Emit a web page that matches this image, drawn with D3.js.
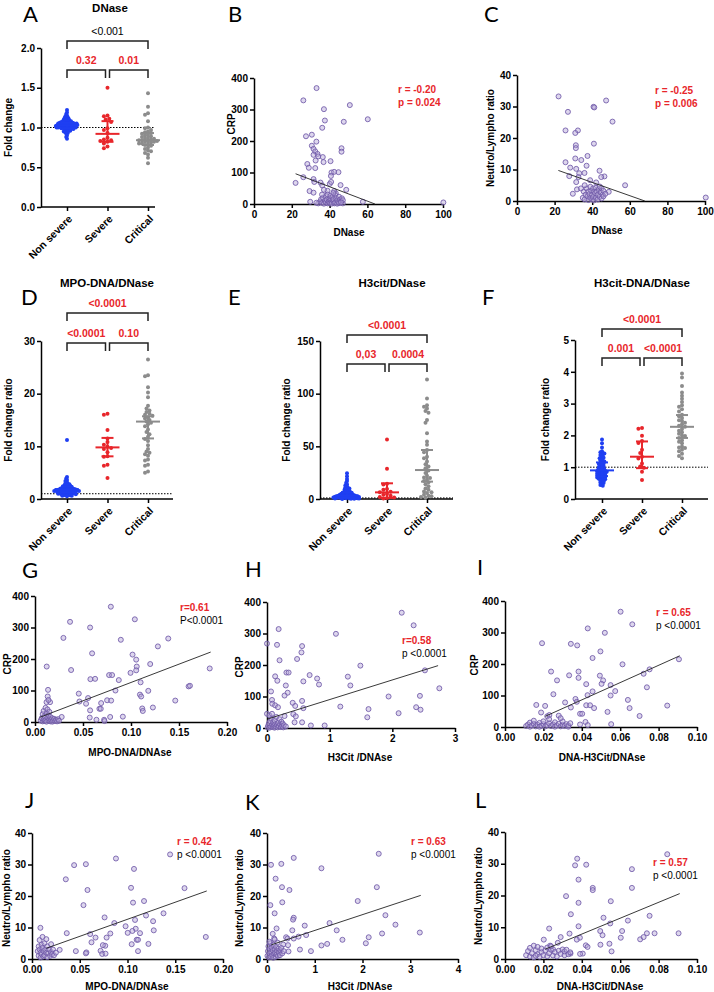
<!DOCTYPE html>
<html>
<head>
<meta charset="utf-8">
<script src="https://cdn.jsdelivr.net/npm/d3@7"></script>
<style>
  body { margin: 0; background: #fff; }
  text { font-family: "Liberation Sans", Arial, sans-serif; }
</style>
</head>
<body>
<div id="fig"></div>
<script>
// ---- data ----
const cats = ["Non severe", "Severe", "Critical"];

// A: DNase fold change
const aNon = [1.22,1.19,1.17,1.15,1.14,1.13,1.12,1.12,1.11,1.10,1.10,1.09,1.09,1.08,1.08,1.08,1.07,1.07,1.07,1.06,1.06,1.06,1.06,1.05,1.05,1.05,1.05,1.05,1.04,1.04,1.04,1.04,1.04,1.03,1.03,1.03,1.03,1.03,1.03,1.02,1.02,1.02,1.02,1.02,1.01,1.01,1.01,1.01,1.01,1.00,1.00,1.00,1.00,0.99,0.99,0.99,0.99,0.98,0.98,0.98,0.97,0.97,0.96,0.96,0.95,0.95,0.94,0.93,0.92,0.90,0.88,0.86];
const aSev = [1.50,1.15,1.14,1.11,1.10,1.07,0.99,0.97,0.93,0.87,0.85,0.84,0.83,0.82,0.80,0.76,0.74];
const aCrit = [1.43,1.26,1.18,1.16,1.08,1.00,0.99,0.97,0.95,0.94,0.93,0.92,0.91,0.90,0.89,0.88,0.87,0.86,0.86,0.85,0.84,0.84,0.83,0.83,0.82,0.82,0.81,0.80,0.80,0.79,0.78,0.77,0.75,0.73,0.71,0.70,0.68,0.66,0.62,0.55];
const aMed = [1.03, 0.92, 0.84];
const aLo = [0.99, 0.82, 0.78];
const aHi = [1.06, 1.08, 0.93];
const aP = ["<0.001", "0.32", "0.01"];

// D: MPO-DNA/DNase
const dNon = [11.2,4.2,3.9,3.6,3.4,3.2,3.0,2.9,2.8,2.7,2.6,2.5,2.5,2.4,2.3,2.3,2.2,2.2,2.1,2.1,2.0,2.0,2.0,1.9,1.9,1.9,1.8,1.8,1.8,1.8,1.7,1.7,1.7,1.7,1.6,1.6,1.6,1.6,1.5,1.5,1.5,1.5,1.4,1.4,1.4,1.4,1.3,1.3,1.3,1.2,1.2,1.2,1.1,1.1,1.1,1.0,1.0,1.0,0.9,0.9,0.9,0.8,0.8,0.7,0.7,0.6,0.6,0.5];
const dSev = [16.2,16.0,13.1,11.5,10.8,10.3,9.9,9.7,9.5,8.9,8.1,8.0,6.5,6.3,4.0];
const dCrit = [26.5,23.5,23.3,21.2,20.2,19.3,17.7,17.2,16.8,16.5,16.2,16.0,15.8,15.5,15.3,15.0,14.7,14.5,14.2,13.8,13.2,12.7,12.3,11.8,11.4,11.0,10.2,9.5,9.0,8.8,8.5,8.2,7.5,7.3,6.5,6.3,5.2,5.0];
const dMed = [1.8, 9.8, 14.7];
const dLo = [1.3, 8.1, 11.5];
const dHi = [2.4, 11.6, 15.7];
const dP = ["<0.0001", "<0.0001", "0.10"];

// E: H3cit/DNase
const eNon = [24.5,21.5,19.0,17.0,15.5,14.0,13.0,12.0,11.2,10.5,10.0,9.5,9.0,8.5,8.0,7.6,7.2,6.8,6.5,6.2,6.0,5.7,5.4,5.2,5.0,4.8,4.6,4.4,4.2,4.0,3.8,3.7,3.5,3.4,3.2,3.1,3.0,2.9,2.8,2.7,2.6,2.5,2.4,2.3,2.2,2.1,2.0,1.9,1.8,1.7,1.6,1.5,1.4,1.3,1.2,1.1,1.0,0.9,0.8,0.7,0.6,0.5,0.4,0.3,0.2,0.1];
const eSev = [56.5,28.8,14.5,13.8,9.5,8.8,7.0,6.3,4.8,4.0,3.0,2.0,1.5,1.0,0.5];
const eCrit = [113.5,95.5,89,87.6,86,83.5,82,75,72.5,62.4,54.5,51.4,46.6,44.4,40,38.8,35.6,33,30.9,29.3,27,24.6,22,20.5,19.9,18.3,17,15.8,14,12,10,8.8,7.2,6.5,5.7,4.1,3.2,2.5,1.9,1.3];
const eMed = [3.0, 6.3, 27.5];
const eLo = [1.5, 1.0, 16.5];
const eHi = [6.5, 14.9, 46.5];
const eP = ["<0.0001", "0,03", "0.0004"];

// F: H3cit-DNA/DNase
const fNon = [1.87,1.75,1.62,1.50,1.47,1.45,1.43,1.40,1.38,1.35,1.32,1.30,1.28,1.25,1.22,1.20,1.18,1.15,1.13,1.12,1.10,1.08,1.06,1.04,1.02,1.00,1.00,0.98,0.96,0.95,0.93,0.92,0.91,0.90,0.89,0.88,0.87,0.86,0.85,0.84,0.83,0.82,0.81,0.80,0.79,0.78,0.77,0.76,0.75,0.74,0.73,0.72,0.71,0.70,0.69,0.68,0.67,0.66,0.65,0.64,0.62,0.60,0.58,0.56,0.54,0.52,0.50,0.47,0.44,0.42];
const fSev = [2.23,2.21,1.99,1.82,1.76,1.55,1.45,1.33,1.27,1.12,1.02,0.98,0.86,0.60];
const fCrit = [3.95,3.82,3.55,3.35,3.25,3.15,3.05,2.95,2.90,2.82,2.75,2.65,2.60,2.55,2.48,2.45,2.40,2.35,2.30,2.27,2.20,2.15,2.10,2.05,2.00,1.98,1.92,1.85,1.80,1.75,1.65,1.62,1.60,1.55,1.50,1.42,1.35,1.28];
const fMed = [0.9, 1.33, 2.27];
const fLo = [0.72, 0.97, 1.92];
const fHi = [1.15, 1.81, 2.64];
const fP = ["<0.0001", "0.001", "<0.0001"];

// B: DNase vs CRP
const dnaseCrp = [[33.1,368],[26.1,329],[37.0,301],[50.7,314],[37.5,265],[47.5,261],[60.2,269],[36.1,242],[27.5,215],[30.6,220],[33.0,198],[30.6,185],[31.5,175],[32.4,167],[33.6,159],[31.5,156],[34.0,151],[36.4,149],[46.3,177],[46.3,166],[32.6,138],[36.8,133],[40.5,136],[28.2,127],[29.0,115],[32.4,114],[41.0,100],[42.4,102],[44.7,101],[40.7,89],[22.0,67],[26.1,85],[31.5,79],[31.9,70],[35.2,68],[40.1,64],[40.8,70],[45.8,60],[48.8,45],[29.4,41],[31.5,36],[36.1,59],[38.9,42],[42.4,41],[43.3,34],[29.75,7],[57.6,7],[100.2,5],
  [34,2],[35,8],[35.5,15],[36,4],[36.5,20],[37,1],[37.5,10],[38,25],[38,5],[38.5,14],[39,2],[39,30],[39.5,8],[40,18],[40,3],[40.5,12],[40.5,26],[41,6],[41,1],[41.5,22],[42,9],[42,15],[42.5,2],[43,28],[43,5],[43.5,18],[44,11],[44,1],[44.5,7],[45,23],[45,3],[45.5,14],[46,8],[46.5,18],[47,2],[47,12],[33,4],[36,30],[42,35],[37,45],[46,5]];
const fitB = [[22,96],[64,0]];
const statB = ["r = -0.20", "p = 0.024"];

// C: DNase vs Neutro/Lympho ratio
const dnaseNlr = [[22.1,33.2],[27.1,28.3],[47.4,31.9],[40.7,29.9],[41.1,29.7],[50.8,25.2],[25.8,22.4],[32.4,22.4],[31.0,21.6],[40.9,18.2],[31.3,17.7],[31.3,16.8],[37.5,14.3],[31.0,13.5],[34.2,13.0],[37.0,11.2],[25.8,12.3],[28.3,10.6],[31.5,10.2],[43.9,9.6],[35.9,8.9],[33.1,8.8],[27.8,7.9],[46.5,7.8],[44.8,7.6],[32.7,7.6],[31.5,6.0],[38.9,6.6],[57.5,5.0],[42.1,5.9],[29.7,2.3],[100.4,1.1],[48.8,2.9],[31.9,3.7],
  [35,1],[35.5,3],[36,0.5],[36.5,2],[37,4],[37.5,1.5],[38,3],[38,0.3],[38.5,2.2],[39,4.5],[39,1],[39.5,3.2],[40,0.5],[40,2],[40.5,4],[40.5,1.2],[41,3],[41,0.2],[41.5,2.5],[42,1],[42,4.2],[42.5,3],[43,0.5],[43,2],[43.5,3.8],[44,1.3],[44.5,2.8],[45,0.8],[45,4],[45.5,2],[46,1.5],[46,3.2],[47,2.3],[44,4.6],[36,5],[34,4]];
const fitC = [[22,9.7],[68,0]];
const statC = ["r = -0.25", "p = 0.006"];

// G: MPO-DNA/DNAse vs CRP
const mpoCrp = [[0.079,366],[0.104,326],[0.0365,318],[0.0574,300],[0.0296,267],[0.0894,261],[0.1388,265],[0.128,240],[0.0595,218],[0.1016,214],[0.1054,198],[0.0122,176],[0.0376,165],[0.106,176],[0.120,184],[0.182,170],[0.1054,164],[0.0995,156],[0.0772,149],[0.0803,149],[0.0873,133],[0.0577,136],[0.0626,137],[0.110,126],[0.0838,100],[0.118,99],[0.0136,102],[0.160,113],[0.1614,115],[0.1093,87],[0.1106,81],[0.0456,90],[0.0553,76],[0.0463,65],[0.0532,58],[0.0751,69],[0.0793,68],[0.0689,60],[0.1117,43],[0.1123,35],[0.1228,46],[0.1461,68],[0.0574,37],[0.0671,42],[0.0685,42],[0.0915,17],[0.057,14],[0.0783,16],[0.064,7],[0.072,7],[0.0724,3],[0.0132,81],[0.0157,63],[0.0278,16],
  [0.006,5],[0.007,12],[0.008,2],[0.008,25],[0.009,8],[0.009,35],[0.010,3],[0.010,18],[0.011,45],[0.011,6],[0.012,28],[0.012,1],[0.013,14],[0.013,40],[0.014,4],[0.014,22],[0.015,9],[0.015,32],[0.016,2],[0.016,16],[0.017,7],[0.018,12],[0.018,1],[0.019,5],[0.020,10],[0.021,3],[0.022,7],[0.023,2],[0.024,9],[0.025,4],[0.012,63],[0.014,70]];
const fitG = [[0.005,15],[0.183,222]];
const statG = ["r=0.61", "P<0.0001"];

// H: H3Cit/DNAse vs CRP
const h3Crp = [[2.15,366],[2.34,326],[0.186,314],[1.10,299],[0.0,268],[0.16,264],[0.56,260],[0.55,240],[0.20,215],[0.48,219],[1.49,198],[2.52,183],[0.31,176],[0.345,176],[0.68,168],[0.13,164],[0.165,150],[0.80,157],[0.58,148],[0.83,138],[1.29,163],[1.33,135],[0.30,135],[0.33,112],[0.064,116],[0.28,103],[0.41,80],[0.45,70],[0.56,86],[0.58,63],[0.08,89],[0.085,77],[0.13,72],[0.175,66],[1.94,100],[2.44,102],[2.75,126],[1.17,68],[1.62,60],[1.60,34],[2.10,47],[2.38,66],[2.45,58],[0.70,8],[0.92,8],[0.0,45],[0.42,44],[0.46,37],[0.56,18],[0.44,18],
  [0.01,2],[0.02,8],[0.03,15],[0.04,1],[0.05,22],[0.06,5],[0.07,30],[0.08,10],[0.09,3],[0.10,18],[0.11,7],[0.12,1],[0.12,25],[0.13,12],[0.14,4],[0.15,35],[0.16,9],[0.17,2],[0.18,16],[0.19,6],[0.20,28],[0.21,11],[0.22,3],[0.23,20],[0.24,7],[0.25,14],[0.26,2],[0.27,9],[0.28,38],[0.30,5],[0.04,40],[0.08,45]];
const fitH = [[0,28],[2.73,198]];
const statH = ["r=0.58", "p <0.0001"];

// I: DNA-H3Cit/DNAse vs CRP
const dnaH3Crp = [[0.0602,366],[0.0663,326],[0.0431,313],[0.052,299],[0.0193,266],[0.0343,264],[0.0376,259],[0.0497,240],[0.0456,219],[0.0612,199],[0.0906,215],[0.024,176],[0.0383,176],[0.0383,156],[0.0334,164],[0.0494,163],[0.0271,148],[0.0511,148],[0.0722,169],[0.0753,183],[0.0423,136],[0.0503,137],[0.0550,133],[0.0739,126],[0.0252,104],[0.0456,113],[0.0430,101],[0.0574,114],[0.055,100],[0.0367,89],[0.0313,78],[0.0374,80],[0.0343,62],[0.0163,70],[0.0209,67],[0.0423,69],[0.0443,69],[0.0464,60],[0.064,86],[0.0649,60],[0.0701,35],[0.0845,68],[0.0188,46],[0.0534,48],[0.0391,42],[0.0402,42],[0.0419,16],[0.0431,6],[0.0391,8],[0.0553,9],[0.028,36],[0.022,34],[0.0231,38],
  [0.011,3],[0.012,8],[0.013,1],[0.013,14],[0.014,5],[0.015,10],[0.015,20],[0.016,2],[0.017,7],[0.018,13],[0.018,1],[0.019,4],[0.020,9],[0.020,18],[0.021,2],[0.022,6],[0.023,12],[0.023,25],[0.024,3],[0.025,8],[0.026,1],[0.026,15],[0.027,5],[0.028,10],[0.029,2],[0.030,7],[0.030,18],[0.031,3],[0.032,9],[0.033,1],[0.033,5],[0.034,12],[0.029,28]];
const fitI = [[0.021,34],[0.091,226]];
const statI = ["r = 0.65", "p <0.0001"];

// J: MPO-DNA/DNAse vs Neutro/Lympho ratio
const mpoNlr = [[0.0879,31.9],[0.0441,29.8],[0.0564,30.1],[0.1068,28.6],[0.0354,25.3],[0.1037,22.6],[0.1597,22.5],[0.0581,21.9],[0.1058,17.9],[0.1173,18.4],[0.0539,17.1],[0.1377,14.5],[0.1194,13.8],[0.076,13.2],[0.0862,11.4],[0.1268,12.0],[0.1079,12.4],[0.098,10.4],[0.1086,9.6],[0.1051,8.9],[0.1002,8.3],[0.1131,8.2],[0.1275,9.1],[0.0088,9.9],[0.0364,8.2],[0.0609,7.9],[0.0665,6.8],[0.0781,6.8],[0.0820,8.1],[0.0623,5.3],[0.1044,4.7],[0.1096,6.1],[0.111,6.1],[0.1219,4.8],[0.182,7.0],[0.0459,2.5],[0.057,2.1],[0.0564,1.8],[0.0718,2.6],[0.0735,1.6],[0.077,1.7],[0.0767,4.2],[0.0742,4.4],[0.111,2.5],[0.029,2.9],[0.1446,33.2],
  [0.006,2.5],[0.007,1],[0.007,4],[0.008,3],[0.008,6],[0.009,0.5],[0.009,2],[0.010,4.5],[0.010,1.5],[0.011,3.5],[0.011,7],[0.012,0.8],[0.012,2.5],[0.013,5],[0.013,1.2],[0.014,3],[0.015,6.3],[0.015,2],[0.016,0.6],[0.016,4],[0.017,1.8],[0.018,3],[0.019,1],[0.020,4.7],[0.020,2.2],[0.021,1.5],[0.022,3],[0.023,1.2],[0.025,2]];
const fitJ = [[0.015,3.4],[0.183,21.6]];
const statJ = ["r = 0.42", "p <0.0001"];

// K: H3Cit/DNAse vs Neutro/Lympho ratio
const h3Nlr = [[2.34,33.4],[0.56,32.1],[0.084,29.9],[0.30,30.2],[1.14,28.8],[0.18,25.5],[0.314,22.8],[0.47,21.9],[2.30,22.8],[1.90,18.4],[0.32,18.0],[0.07,17.1],[0.16,14.5],[2.48,13.9],[0.56,13.1],[0.545,12.5],[1.31,11.4],[2.69,10.9],[0.79,10.6],[0.20,9.7],[0.53,9.1],[1.46,9.1],[0.12,8.0],[0.82,7.6],[2.41,8.1],[3.2,8.4],[0.66,7.1],[0.56,6.5],[0.40,6.9],[0.43,6.5],[1.58,6.1],[2.13,6.9],[2.07,5.0],[1.14,4.3],[1.26,4.8],[0.69,3.0],[0.92,2.5],[0.45,2.4],[0.34,4.6],[0.44,4.4],[0.15,6.5],
  [0.01,1],[0.02,2.5],[0.03,4],[0.04,0.5],[0.05,1.8],[0.06,3.2],[0.07,5],[0.08,0.8],[0.09,2.2],[0.10,3.6],[0.11,1.2],[0.12,2.8],[0.13,0.4],[0.14,4.5],[0.15,1.6],[0.16,3],[0.17,2],[0.18,0.7],[0.19,3.8],[0.20,1.4],[0.21,2.6],[0.22,5.2],[0.23,1],[0.24,3.3],[0.25,2],[0.27,1.2],[0.28,2.8],[0.30,3.5],[0.32,1.8],[0.35,2.5],[0.05,5.5],[0.16,6.2]];
const fitK = [[0.09,4.5],[3.22,20.2]];
const statK = ["r = 0.63", "p <0.0001"];

// L: DNA-H3Cit/DNAse vs Neutro/Lympho ratio
const dnaH3Nlr = [[0.0845,33.0],[0.0376,31.6],[0.0365,29.5],[0.0423,29.7],[0.0661,28.3],[0.0383,25.0],[0.0457,22.4],[0.0457,21.7],[0.0661,22.4],[0.0318,19.8],[0.0383,17.7],[0.0551,18.2],[0.0343,14.1],[0.0753,13.6],[0.0513,13.0],[0.064,12.1],[0.0548,11.2],[0.0383,10.3],[0.023,9.6],[0.0496,8.8],[0.061,8.8],[0.0508,7.5],[0.0739,8.1],[0.0779,8.1],[0.0904,8.1],[0.029,6.9],[0.0336,8.0],[0.039,6.7],[0.0374,6.1],[0.0603,6.7],[0.0704,6.2],[0.0722,6.9],[0.0202,6.1],[0.0497,4.5],[0.0544,4.8],[0.0555,2.4],[0.0421,4.3],[0.043,3.8],[0.0405,1.7],[0.0391,1.6],[0.0341,1.7],[0.0275,5.1],[0.0235,4.2],
  [0.011,1.2],[0.012,2.5],[0.013,0.8],[0.013,3.5],[0.014,1.8],[0.015,4.2],[0.015,0.5],[0.016,2.8],[0.017,1.5],[0.017,3.8],[0.018,0.7],[0.019,2.2],[0.019,3.3],[0.020,1.2],[0.021,2.7],[0.022,0.9],[0.022,3.6],[0.023,1.8],[0.024,2.9],[0.025,1.1],[0.025,3.1],[0.026,2.2],[0.027,0.8],[0.028,2.6],[0.029,1.6],[0.030,3],[0.031,1.2],[0.031,2.4],[0.032,2.9],[0.033,1.5],[0.034,2.1],[0.016,1],[0.024,4]];
const fitL = [[0.021,3.1],[0.091,20.6]];
const statL = ["r = 0.57", "p <0.0001"];

// ---- drawing ----
const RED = "#e8262b", BLUE = "#1f3ff2", GRAY = "#8c8c8c";
const svg = d3.select("#fig").append("svg")
  .attr("width", 714).attr("height", 992)
  .style("background", "#fff");

function styleAxis(g) {
  g.selectAll(".domain").attr("stroke", "#000").attr("stroke-width", 1.5);
  g.selectAll(".tick line").attr("stroke", "#000").attr("stroke-width", 1.5);
  g.selectAll(".tick text").attr("fill", "#000")
    .style("font-size", "10px").style("font-weight", "bold");
}

function letter(t, x, y) {
  svg.append("text").attr("x", x).attr("y", y).text(t)
    .style("font-family", "Lato, 'Open Sans', sans-serif").style("font-size", "22px");
}

function yLabel(t, x, y) {
  svg.append("text").attr("transform", `translate(${x},${y}) rotate(-90)`)
    .attr("text-anchor", "middle").attr("dy", "0.35em").text(t)
    .style("font-size", "10px").style("font-weight", "bold");
}

// simple beeswarm: place each dot as close to the centre as it can go
function swarm(vals, y, cx, minD) {
  const placed = [];
  vals.map(v => ({ v, y: y(v) })).sort((a, b) => a.y - b.y).forEach(p => {
    for (let k = 0; k < 400; k++) {
      const off = (k % 2 ? -1 : 1) * Math.ceil(k / 2) * minD / 2;
      const xx = cx + off;
      if (placed.every(q => (q.x - xx) ** 2 + (q.y - p.y) ** 2 >= minD * minD)) { p.x = xx; break; }
    }
    placed.push(p);
  });
  return placed;
}

function swarmPanel(o) {
  const x = d3.scalePoint().domain(cats).range([o.c0, o.c1]);
  const y = d3.scaleLinear().domain(o.yd).range([o.b, o.t]);
  const g = svg.append("g");

  const xa = g.append("g").attr("transform", `translate(0,${o.b})`)
    .call(d3.axisBottom(x).tickSize(4).tickSizeOuter(0)).call(styleAxis);
  xa.select(".domain").attr("d", `M${o.l},0H${o.r}`);
  xa.selectAll(".tick text").attr("x", -5).attr("y", 9).attr("dy", "0.35em")
    .attr("transform", "rotate(-45)").attr("text-anchor", "end").style("font-size", "10.5px");

  g.append("g").attr("transform", `translate(${o.l},0)`)
    .call(d3.axisLeft(y).tickValues(o.yt).tickFormat(d3.format(o.yf)).tickSize(4).tickSizeOuter(0).tickPadding(2))
    .call(styleAxis);

  g.append("line").attr("x1", o.l).attr("x2", o.r).attr("y1", y(1)).attr("y2", y(1))
    .attr("stroke", "#000").attr("stroke-width", 1).attr("stroke-dasharray", "1.5,1.5");

  const colors = [BLUE, RED, GRAY];
  o.groups.forEach((vals, i) => {
    const pts = swarm(vals, y, x(cats[i]), o.sp[i]);
    g.append("g").selectAll("circle").data(pts).join("circle")
      .attr("cx", d => d.x).attr("cy", d => d.y).attr("r", 2).attr("fill", colors[i]);
    const cx = x(cats[i]);
    const eb = g.append("g").attr("stroke", colors[i]).attr("stroke-width", 2).attr("fill", "none");
    eb.append("line").attr("x1", cx).attr("x2", cx).attr("y1", y(o.lo[i])).attr("y2", y(o.hi[i]));
    eb.append("line").attr("x1", cx - 6).attr("x2", cx + 6).attr("y1", y(o.lo[i])).attr("y2", y(o.lo[i]));
    eb.append("line").attr("x1", cx - 6).attr("x2", cx + 6).attr("y1", y(o.hi[i])).attr("y2", y(o.hi[i]));
    eb.append("line").attr("x1", cx - 12).attr("x2", cx + 12).attr("y1", y(o.med[i])).attr("y2", y(o.med[i]));
  });

  // significance brackets
  const xs = cats.map(c => x(c));
  const br = [
    { x0: xs[0], x1: xs[2], yb: o.brTop, t: o.p[0], c: o.pc0 },
    { x0: xs[0], x1: xs[1] - 2, yb: o.brLow, t: o.p[1], c: RED },
    { x0: xs[1] + 2, x1: xs[2], yb: o.brLow, t: o.p[2], c: RED }
  ];
  br.forEach(b => {
    g.append("path").attr("d", `M${b.x0},${b.yb + 8}V${b.yb}H${b.x1}V${b.yb + 8}`)
      .attr("fill", "none").attr("stroke", "#222").attr("stroke-width", 1.5);
    g.append("text").attr("x", (b.x0 + b.x1) / 2).attr("y", b.yb - 6)
      .attr("text-anchor", "middle").text(b.t).attr("fill", b.c)
      .style("font-size", "10.5px").style("font-weight", b.c === RED ? "bold" : "normal");
  });

  g.append("text").attr("x", o.title[1]).attr("y", o.title[2]).attr("text-anchor", "middle")
    .text(o.title[0]).style("font-size", "11.5px").style("font-weight", "bold");
  yLabel(o.yLab, o.yLabX, (o.t + o.b) / 2);
  letter(o.letter[0], o.letter[1], o.letter[2]);
}

function scatter(o) {
  const x = d3.scaleLinear().domain(o.xd).range([o.l, o.r]);
  const y = d3.scaleLinear().domain(o.yd).range([o.b, o.t]);
  const g = svg.append("g");
  g.append("g").attr("transform", `translate(0,${o.b})`)
    .call(d3.axisBottom(x).tickValues(o.xt).tickFormat(d3.format(o.xf)).tickSize(4).tickSizeOuter(0).tickPadding(3))
    .call(styleAxis);
  g.append("g").attr("transform", `translate(${o.l},0)`)
    .call(d3.axisLeft(y).tickValues(o.yt).tickFormat(d3.format(o.yf)).tickSize(4).tickSizeOuter(0).tickPadding(2))
    .call(styleAxis);

  g.append("g").selectAll("circle").data(o.pts).join("circle")
    .attr("cx", d => x(d[0])).attr("cy", d => y(d[1])).attr("r", 2.5)
    .attr("fill", "#b3a3d8").attr("fill-opacity", 0.45)
    .attr("stroke", "#7059a8").attr("stroke-opacity", 0.85).attr("stroke-width", 1);

  g.append("line")
    .attr("x1", x(o.fit[0][0])).attr("y1", y(o.fit[0][1]))
    .attr("x2", x(o.fit[1][0])).attr("y2", y(o.fit[1][1]))
    .attr("stroke", "#222").attr("stroke-width", 0.9);

  g.append("text").attr("x", o.sp[0]).attr("y", o.sp[1]).text(o.stat[0])
    .attr("fill", RED).style("font-size", "10px").style("font-weight", "bold");
  g.append("text").attr("x", o.sp[0]).attr("y", o.sp[1] + 13).text(o.stat[1])
    .attr("fill", o.redP ? RED : "#000").style("font-size", "10px")
    .style("font-weight", o.redP ? "bold" : "normal");

  g.append("text").attr("x", o.xLab[1]).attr("y", o.xLab[2]).attr("text-anchor", "middle")
    .text(o.xLab[0]).style("font-size", "10px").style("font-weight", "bold");
  yLabel(o.yLab[0], o.yLab[1], o.yLab[2]);
  letter(o.letter[0], o.letter[1], o.letter[2]);
}

// top-left A and row two
swarmPanel({ letter: ["A", 23, 22], title: ["DNase", 110, 12], groups: [aNon, aSev, aCrit], sp: [1.6, 3.6, 3.0],
  med: aMed, lo: aLo, hi: aHi, p: aP, pc0: "#000", yd: [0, 2], yt: [0, 0.5, 1, 1.5, 2], yf: ".1f",
  l: 41, r: 155, t: 48, b: 207, c0: 67, c1: 148, brTop: 41, brLow: 70, yLab: "Fold change", yLabX: 8 });
swarmPanel({ letter: ["D", 21, 305], title: ["MPO-DNA/DNase", 107, 287], groups: [dNon, dSev, dCrit], sp: [1.6, 3.6, 3.0],
  med: dMed, lo: dLo, hi: dHi, p: dP, pc0: RED, yd: [0, 30], yt: [0, 10, 20, 30], yf: "d",
  l: 41, r: 173, t: 341, b: 499, c0: 67, c1: 148, brTop: 313, brLow: 343, yLab: "Fold change ratio", yLabX: 8 });
swarmPanel({ letter: ["E", 228, 305], title: ["H3cit/DNase", 392, 287], groups: [eNon, eSev, eCrit], sp: [1.6, 3.6, 3.0],
  med: eMed, lo: eLo, hi: eHi, p: eP, pc0: RED, yd: [0, 150], yt: [0, 50, 100, 150], yf: "d",
  l: 320, r: 453, t: 341, b: 499, c0: 347, c1: 427, brTop: 335, brLow: 364, yLab: "Fold change ratio", yLabX: 286 });
swarmPanel({ letter: ["F", 482, 305], title: ["H3cit-DNA/DNase", 642, 287], groups: [fNon, fSev, fCrit], sp: [1.6, 3.6, 3.0],
  med: fMed, lo: fLo, hi: fHi, p: fP, pc0: RED, yd: [0, 5], yt: [0, 1, 2, 3, 4, 5], yf: "d",
  l: 575, r: 708, t: 340, b: 499, c0: 602, c1: 682, brTop: 329, brLow: 358, yLab: "Fold change ratio", yLabX: 545 });

scatter({ letter: ["B", 228, 22], pts: dnaseCrp, fit: fitB, stat: statB, redP: true, sp: [398, 93],
  xd: [0, 100], yd: [0, 400], xt: [0, 20, 40, 60, 80, 100], yt: [0, 100, 200, 300, 400], xf: "d", yf: "d",
  l: 254, r: 443, t: 78, b: 204, xLab: ["DNase", 349, 236], yLab: ["CRP", 231, 124] });
scatter({ letter: ["C", 484, 22], pts: dnaseNlr, fit: fitC, stat: statC, redP: true, sp: [655, 94],
  xd: [0, 100], yd: [0, 40], xt: [0, 20, 40, 60, 80, 100], yt: [0, 10, 20, 30, 40], xf: "d", yf: "d",
  l: 517, r: 705, t: 75, b: 201, xLab: ["DNase", 607, 234], yLab: ["Neutro/Lympho ratio", 490, 138] });

scatter({ letter: ["G", 22, 578], pts: mpoCrp, fit: fitG, stat: statG, redP: false, sp: [180, 611],
  xd: [0, 0.2], yd: [0, 400], xt: [0, 0.05, 0.1, 0.15, 0.2], yt: [0, 100, 200, 300, 400], xf: ".2f", yf: "d",
  l: 35, r: 227, t: 596, b: 722, xLab: ["MPO-DNA/DNAse", 130, 756], yLab: ["CRP", 7, 664] });
scatter({ letter: ["H", 245, 577], pts: h3Crp, fit: fitH, stat: statH, redP: false, sp: [402, 644],
  xd: [0, 3], yd: [0, 400], xt: [0, 1, 2, 3], yt: [0, 100, 200, 300, 400], xf: "d", yf: "d",
  l: 267, r: 455, t: 602, b: 728, xLab: ["H3Cit /DNAse", 360, 761], yLab: ["CRP", 239, 667] });
scatter({ letter: ["I", 477, 575], pts: dnaH3Crp, fit: fitI, stat: statI, redP: false, sp: [656, 616],
  xd: [0, 0.1], yd: [0, 400], xt: [0, 0.02, 0.04, 0.06, 0.08, 0.1], yt: [0, 100, 200, 300, 400], xf: ".2f", yf: "d",
  l: 505, r: 697, t: 601, b: 727, xLab: ["DNA-H3Cit/DNAse", 602, 761], yLab: ["CRP", 474, 665] });

scatter({ letter: ["J", 25, 808], pts: mpoNlr, fit: fitJ, stat: statJ, redP: false, sp: [177, 845],
  xd: [0, 0.2], yd: [0, 40], xt: [0, 0.05, 0.1, 0.15, 0.2], yt: [0, 10, 20, 30, 40], xf: ".2f", yf: "d",
  l: 32, r: 223, t: 833, b: 959, xLab: ["MPO-DNA/DNAse", 127, 990], yLab: ["Neutro/Lympho ratio", 6, 898] });
scatter({ letter: ["K", 245, 810], pts: h3Nlr, fit: fitK, stat: statK, redP: false, sp: [411, 845],
  xd: [0, 4], yd: [0, 40], xt: [0, 1, 2, 3, 4], yt: [0, 10, 20, 30, 40], xf: "d", yf: "d",
  l: 267, r: 458, t: 833, b: 959, xLab: ["H3Cit /DNAse", 360, 990], yLab: ["Neutro/Lympho ratio", 239, 898] });
scatter({ letter: ["L", 475, 808], pts: dnaH3Nlr, fit: fitL, stat: statL, redP: false, sp: [653, 866],
  xd: [0, 0.1], yd: [0, 40], xt: [0, 0.02, 0.04, 0.06, 0.08, 0.1], yt: [0, 10, 20, 30, 40], xf: ".2f", yf: "d",
  l: 505, r: 697, t: 832, b: 959, xLab: ["DNA-H3Cit/DNAse", 600, 990], yLab: ["Neutro/Lympho ratio", 478, 896] });
</script>
</body>
</html>
